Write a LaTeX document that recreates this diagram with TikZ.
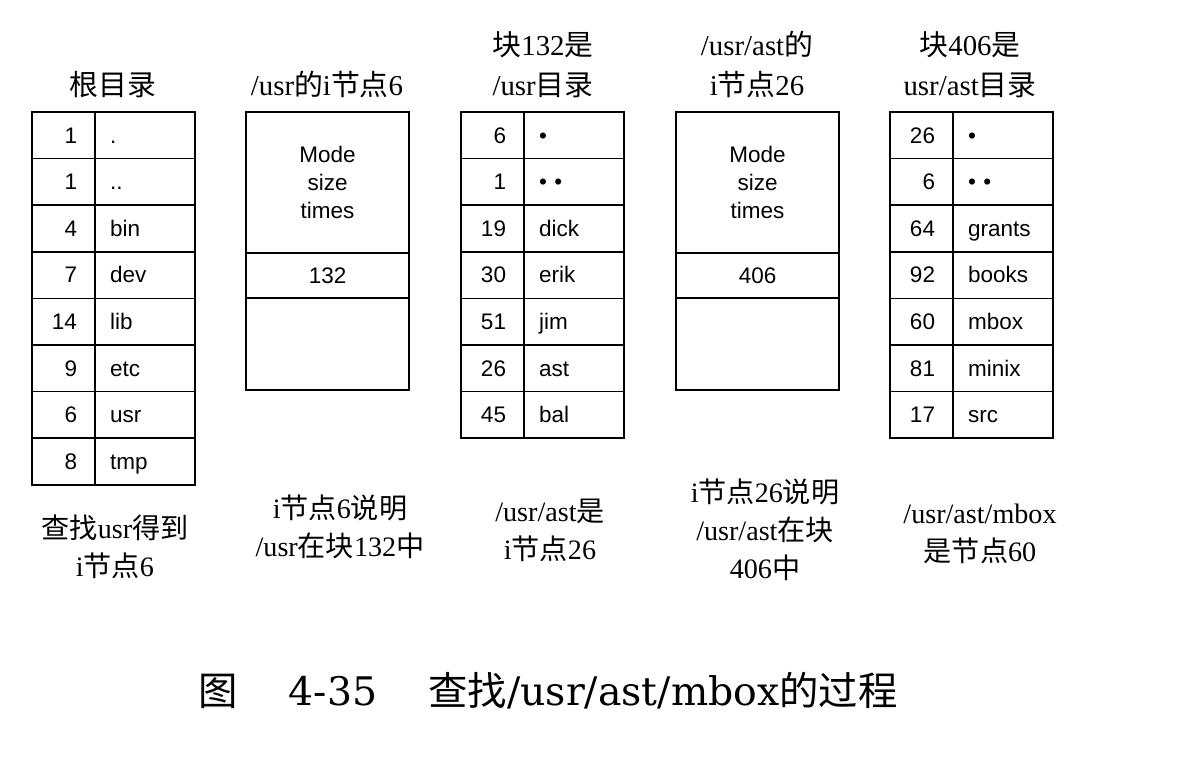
\documentclass[tikz,border=0pt]{standalone}
\usepackage{fontspec}
\setmainfont{Liberation Serif}
\newfontfamily\zhfont{Noto Sans CJK SC}
\newfontfamily\cellfont{Liberation Sans}
\newfontfamily\capfont{DejaVu Serif}
\newcommand\zh[1]{{\zhfont #1}}
\usetikzlibrary{positioning}

\begin{document}
\begin{tikzpicture}
		[x=0.025cm, y=-0.025cm,
		cell/.style={draw, line width=1.2pt, outer sep=0pt, minimum height=1.165cm, font=\cellfont\fontsize{16}{18}\selectfont, text height=2.6ex, text depth=0.2ex},
		numcell/.style={cell, anchor=north west, inner xsep=0.45cm, text width=0.675cm, align=right},
		namecell/.style={cell, inner xsep=0.375cm, text width=1.75cm, align=left},
		inode/.style={draw, line width=1.2pt, outer sep=0pt, minimum width=4.075cm, font=\cellfont\fontsize{16}{18}\selectfont},
		modetext/.style={align=center, font=\cellfont\fontsize{16}{19.9}\selectfont},
		head/.style={anchor=base, align=center, font=\fontsize{20.5}{28.5}\selectfont},
		note/.style={anchor=base, align=center, font=\fontsize{20}{27}\selectfont}]
		\useasboundingbox (0,0) rectangle (1184,760);

		% Root directory
		\foreach \num/\nm [count=\i] in {1/., 1/.., 4/bin, 7/dev, 14/lib, 9/etc, 6/usr, 8/tmp} {
			\node[numcell] (rootn\i) at (32,{112+(\i-1)*46.6}) {\num};
			\node[namecell, right=0pt of rootn\i] (roote\i) {\nm};
		}
		\node[head] (roothead) at (113,96) {\zh{根目录}};
		\node[note] (rootnote) at (115,576) {\zh{查找}usr\zh{得到}\\i\zh{节点}6};

		% i-node 6
		\node[inode, anchor=north west, minimum height=3.525cm] (usrattr) at (246,112) {};
		\node[modetext] (usrmode) at ([yshift=-1.75cm]usrattr.north) {Mode\\size\\times};
		\node[inode, below=0pt of usrattr, minimum height=1.125cm] (usrblk) {132};
		\node[inode, below=0pt of usrblk, minimum height=2.3cm] (usrrest) {};
		\node[head] (usrhead) at (327,96) {/usr\zh{的}i\zh{节点}6};
		\node[note] (usrnote) at (340,556) {i\zh{节点}6\zh{说明}\\/usr\zh{在块}132\zh{中}};

		% Block 132
		\foreach \num/\nm [count=\i] in {6/•, 1/• •, 19/dick, 30/erik, 51/jim, 26/ast, 45/bal} {
			\node[numcell] (usrn\i) at (461,{112+(\i-1)*46.6}) {\num};
			\node[namecell, right=0pt of usrn\i] (usre\i) {\nm};
		}
		\node[head] (blkhead) at (543,96) {\zh{块}132\zh{是}\\/usr\zh{目录}};
		\node[note] (blknote) at (550,559) {/usr/ast\zh{是}\\i\zh{节点}26};

		% i-node 26
		\node[inode, anchor=north west, minimum height=3.525cm] (astattr) at (676,112) {};
		\node[modetext] (astmode) at ([yshift=-1.75cm]astattr.north) {Mode\\size\\times};
		\node[inode, below=0pt of astattr, minimum height=1.125cm] (astblk) {406};
		\node[inode, below=0pt of astblk, minimum height=2.3cm] (astrest) {};
		\node[head] (asthead) at (757,96) {/usr/ast\zh{的}\\i\zh{节点}26};
		\node[note] (astnote) at (765,578) {i\zh{节点}26\zh{说明}\\/usr/ast\zh{在块}\\406\zh{中}};

		% Block 406
		\foreach \num/\nm [count=\i] in {26/•, 6/• •, 64/grants, 92/books, 60/mbox, 81/minix, 17/src} {
			\node[numcell] (astn\i) at (890,{112+(\i-1)*46.6}) {\num};
			\node[namecell, right=0pt of astn\i] (aste\i) {\nm};
		}
		\node[head] (dirhead) at (970,96) {\zh{块}406\zh{是}\\usr/ast\zh{目录}};
		\node[note] (dirnote) at (980,561) {/usr/ast/mbox\\\zh{是节点}60};

		% Caption
		\node[anchor=base, font=\capfont\fontsize{28}{32}\selectfont] (figcap) at (548,705)
			{\zh{图}\hspace{1.3em}4-35\hspace{1.3em}\zh{查找}/usr/ast/mbox\zh{的过程}};
	\end{tikzpicture}
\end{document}
